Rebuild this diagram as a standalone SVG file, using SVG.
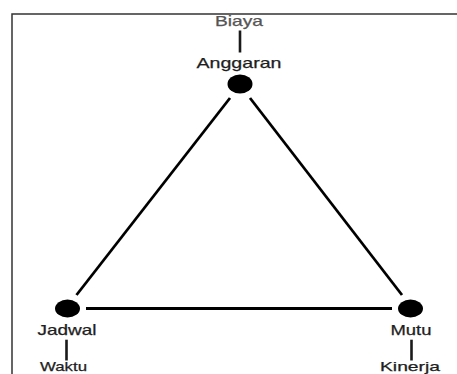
<svg xmlns="http://www.w3.org/2000/svg" width="457" height="374" viewBox="0 0 457 374">
<style>
.t{font-family:"Liberation Sans",Arial,sans-serif;font-size:14.5px;fill:#1e1e1e;text-anchor:middle;stroke:#1e1e1e;stroke-width:0.25}
.b{font-size:13px}
.tick{stroke:#1a1a1a;stroke-width:2.6}
.edge{stroke:#000;stroke-width:2.8;stroke-linecap:butt}
.dot{fill:#000}
</style>
<rect width="457" height="374" fill="#fff"/>
<g id="connectors">
<line class="edge" x1="230" y1="98" x2="76.5" y2="295"/>
<line class="edge" x1="250" y1="98" x2="402" y2="295"/>
<line class="edge" x1="86" y1="308.5" x2="392" y2="308.5"/>
</g>
<g id="anggaran">
<ellipse class="dot" cx="240" cy="84" rx="12.5" ry="9.5"/>
<text class="t" x="239" y="68" textLength="85" lengthAdjust="spacingAndGlyphs">Anggaran</text>
<line class="tick" x1="240" y1="30.5" x2="240" y2="52.5"/>
<text class="t" x="239" y="25.5" textLength="48" lengthAdjust="spacingAndGlyphs" style="fill:#555;stroke:#555">Biaya</text>
</g>
<g id="jadwal">
<ellipse class="dot" cx="67.5" cy="308.5" rx="12.5" ry="9"/>
<text class="t" x="67" y="335.3" textLength="59" lengthAdjust="spacingAndGlyphs">Jadwal</text>
<line class="tick" x1="66.5" y1="339.7" x2="66.5" y2="360.5"/>
<text class="t b" x="63.5" y="370.8" textLength="47" lengthAdjust="spacingAndGlyphs">Waktu</text>
</g>
<g id="mutu">
<ellipse class="dot" cx="410.5" cy="308.5" rx="12.5" ry="9"/>
<text class="t" x="411" y="334.8" textLength="41" lengthAdjust="spacingAndGlyphs">Mutu</text>
<line class="tick" x1="411.5" y1="339.7" x2="411.5" y2="360.5"/>
<text class="t b" x="410" y="370.8" textLength="60" lengthAdjust="spacingAndGlyphs">Kinerja</text>
</g>
<g id="frame" fill="none" stroke="#333" stroke-width="1.5">
<path d="M12,374 V14 H457"/>
</g>
</svg>
